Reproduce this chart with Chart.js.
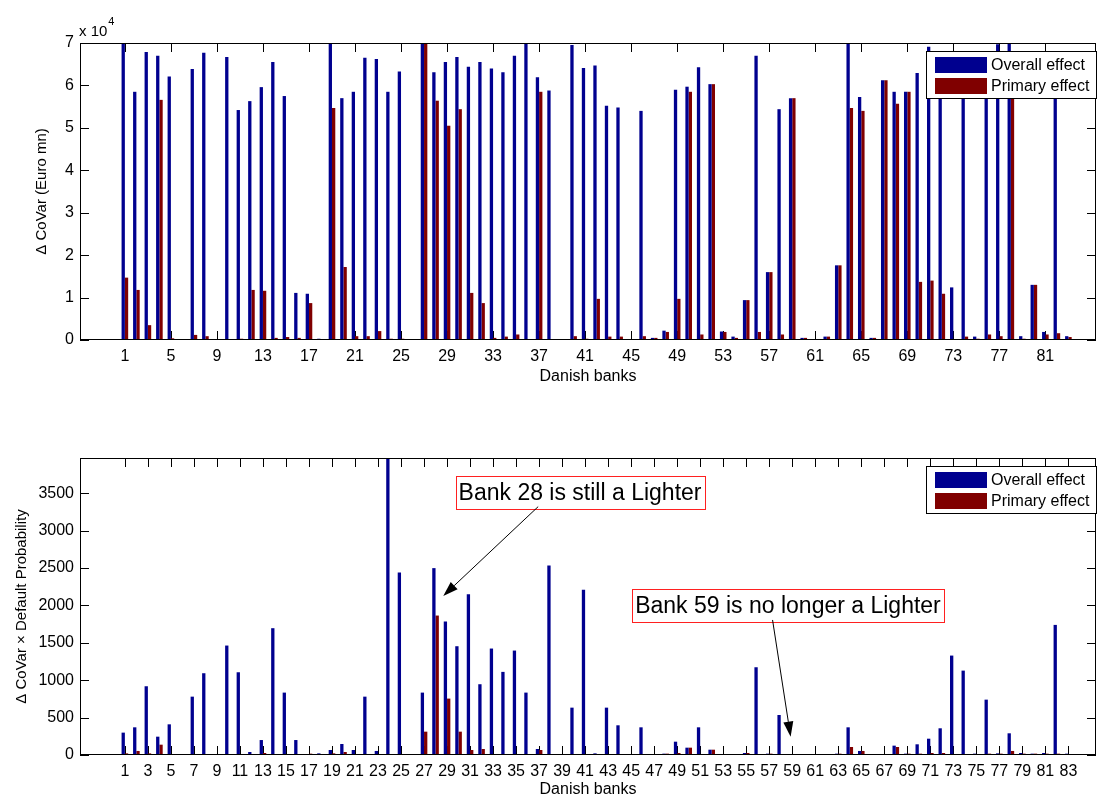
<!DOCTYPE html>
<html lang="en">
<head>
<meta charset="UTF-8">
<title>Danish banks - Delta CoVar</title>
<script src="https://cdn.jsdelivr.net/npm/chart.js"></script>
<style>
    body { margin: 0; background: #fff; overflow: hidden; font-family: "Liberation Sans", Arial, sans-serif; }
    .panel { position: absolute; left: 0; }
    #top-panel { top: 0; }
    #bottom-panel { top: 400px; }
</style>
</head>
<body>
<div class="panel" id="top-panel"><canvas id="covar-chart" width="1097" height="400"></canvas></div>
<div class="panel" id="bottom-panel"><canvas id="prob-chart" width="1097" height="400"></canvas></div>

<script>
// banks on the x axis
const banks = [1, 2, 3, 4, 5, 6, 7, 8, 9, 10, 11, 12, 13, 14, 15, 16, 17, 18, 19, 20,
    21, 22, 23, 24, 25, 26, 27, 28, 29, 30, 31, 32, 33, 34, 35, 36, 37, 38, 39, 40,
    41, 42, 43, 44, 45, 46, 47, 48, 49, 50, 51, 52, 53, 54, 55, 56, 57, 58, 59, 60,
    61, 62, 63, 64, 65, 66, 67, 68, 69, 70, 71, 72, 73, 74, 75, 76, 77, 78, 79, 80,
    81, 82, 83];

// tick labels
const topXTicks = [1, 5, 9, 13, 17, 21, 25, 29, 33, 37, 41, 45, 49, 53, 57, 61, 65, 69, 73, 77, 81];
const bottomXTicks = [1, 3, 5, 7, 9, 11, 13, 15, 17, 19, 21, 23, 25, 27, 29, 31, 33, 35, 37, 39, 41,
    43, 45, 47, 49, 51, 53, 55, 57, 59, 61, 63, 65, 67, 69, 71, 73, 75, 77, 79, 81, 83];
const topYTicks = [0, 1, 2, 3, 4, 5, 6, 7];
const bottomYTicks = [0, 500, 1000, 1500, 2000, 2500, 3000, 3500];

// Delta CoVar, in units of 10^4 Euro mn
const overallCovar = [7.0, 5.85, 6.79, 6.70, 6.21, 0.02, 6.39, 6.77, 0.01, 6.67,
    5.42, 5.63, 5.96, 6.55, 5.75, 1.11, 1.09, 0.03, 7.0, 5.70,
    5.85, 6.65, 6.62, 5.85, 6.33, 0.01, 7.0, 6.31, 6.55, 6.67,
    6.44, 6.55, 6.40, 6.31, 6.70, 6.99, 6.19, 5.88, 0.01, 6.95,
    6.41, 6.47, 5.52, 5.48, 0.02, 5.40, 0.05, 0.22, 5.90, 5.97,
    6.43, 6.03, 0.20, 0.08, 0.94, 6.70, 1.60, 5.44, 5.70, 0.05,
    0.02, 0.08, 1.76, 7.0, 5.73, 0.05, 6.12, 5.85, 5.85, 6.29,
    6.91, 6.30, 1.24, 6.10, 0.08, 6.20, 6.97, 7.0, 0.09, 1.30,
    0.19, 6.00, 0.09];
const primaryCovar = [1.47, 1.18, 0.35, 5.66, 0.04, 0.02, 0.12, 0.09, 0.02, 0.01,
    0.03, 1.18, 1.16, 0.05, 0.07, 0.05, 0.87, 0.02, 5.47, 1.72,
    0.09, 0.09, 0.21, 0.03, 0.03, 0.01, 7.0, 5.64, 5.05, 5.44,
    1.11, 0.87, 0.05, 0.08, 0.13, -0.03, 5.85, 0.02, 0.01, 0.09,
    0.03, 0.97, 0.08, 0.08, 0.02, 0.09, 0.05, 0.19, 0.97, 5.85,
    0.13, 6.03, 0.19, 0.05, 0.94, 0.19, 1.60, 0.13, 5.70, 0.05,
    0.02, 0.08, 1.76, 5.47, 5.40, 0.05, 6.12, 5.57, 5.85, 1.37,
    1.40, 1.09, 0.02, 0.08, 0.03, 0.13, 0.09, 6.40, 0.03, 1.30,
    0.13, 0.16, 0.07];

// Delta CoVar x default probability
const overallProb = [299, 370, 919, 245, 410, 4, 780, 1093, 4, 1463,
    1106, 40, 200, 1695, 834, 200, 13, 22, 67, 147,
    67, 780, 54, 3970, 2440, 4, 834, 2498, 1784, 1454,
    2150, 946, 1423, 1111, 1396, 834, 80, 2533, 4, 633,
    2208, 22, 633, 397, 4, 370, 4, 18, 178, 98,
    370, 71, 4, 4, 27, 1173, 18, 535, 2, 2,
    2, 2, 18, 370, 54, 4, 4, 125, 18, 143,
    218, 357, 1329, 1128, 18, 740, 22, 290, 27, 18,
    27, 1739, 18];
const primaryProb = [22, 54, 22, 138, 4, 4, 9, 4, 4, 4,
    9, 9, 27, 4, 4, 4, 18, 9, 22, 40,
    4, 4, 4, 4, 4, 4, 312, 1864, 754, 312,
    67, 80, 4, 4, 4, 4, 67, 4, 4, 4,
    4, 4, 4, 4, 4, 4, 4, 18, 27, 98,
    4, 71, 4, 4, 27, 13, 18, 4, 2, 2,
    2, 2, 18, 107, 54, 4, 4, 107, 18, 18,
    27, 27, 4, 4, 4, 18, 18, 54, 18, 18,
    18, 18, 4];

// text boxes with arrows, in data coordinates of the lower plot
const probNotes = [
    { text: 'Bank 28 is still a Lighter', at: [29.74, 3511], from: [36.92, 3320], to: [28.67, 2126] },
    { text: 'Bank 59 is no longer a Lighter', at: [45.09, 1999], from: [57.29, 1805], to: [58.86, 245] }
];

const FONT = '"Liberation Sans", Arial, Helvetica, sans-serif';
const BLUE = '#00008f';
const RED = '#800000';
const TICK_LEN = 9;

// inward ticks, axes box, boxed legend and notes (MATLAB look)
function framePlugin(cfg) {
    return {
        id: 'frame',
        beforeDatasetsDraw(chart) {
            const { ctx, chartArea: a, scales: { x, y } } = chart;
            ctx.save();
            ctx.strokeStyle = '#000';
            ctx.lineWidth = 1;
            ctx.beginPath();
            x.ticks.forEach(t => {
                const px = Math.round(x.getPixelForValue(t.value)) + 0.5;
                ctx.moveTo(px, a.bottom); ctx.lineTo(px, a.bottom - TICK_LEN);
                ctx.moveTo(px, a.top); ctx.lineTo(px, a.top + TICK_LEN);
            });
            y.ticks.forEach(t => {
                const py = Math.round(y.getPixelForValue(t.value)) + 0.5;
                ctx.moveTo(a.left, py); ctx.lineTo(a.left + TICK_LEN, py);
                ctx.moveTo(a.right, py); ctx.lineTo(a.right - TICK_LEN, py);
            });
            ctx.stroke();
            ctx.restore();
        },
        afterDatasetsDraw(chart) {
            const { ctx, chartArea: a } = chart;
            ctx.save();
            ctx.strokeStyle = '#000';
            ctx.lineWidth = 1;
            ctx.strokeRect(Math.round(a.left) + 0.5, Math.round(a.top) + 0.5,
                Math.round(a.right - a.left) - 1, Math.round(a.bottom - a.top) - 1);
            ctx.restore();
        },
        afterDraw(chart) {
            const { ctx, chartArea: a, scales: { x, y } } = chart;
            ctx.save();

            // legend
            const bw = 171, bh = 48;
            const bx = Math.round(a.right) - 170, by = Math.round(a.top) + 8;
            ctx.fillStyle = '#fff';
            ctx.fillRect(bx, by, bw, bh);
            ctx.strokeStyle = '#000';
            ctx.lineWidth = 1;
            ctx.strokeRect(bx + 0.5, by + 0.5, bw - 1, bh - 1);
            ctx.font = '16px ' + FONT;
            ctx.textBaseline = 'middle';
            ctx.textAlign = 'left';
            chart.data.datasets.forEach((ds, i) => {
                const ry = by + 6 + i * 21;
                ctx.fillStyle = ds.backgroundColor;
                ctx.fillRect(bx + 9, ry, 52, 16);
                ctx.fillStyle = '#000';
                ctx.fillText(ds.label, bx + 65, ry + 8.5);
            });

            // exponent label
            if (cfg.exponent) {
                ctx.fillStyle = '#000';
                ctx.textBaseline = 'alphabetic';
                ctx.font = '15px ' + FONT;
                ctx.fillText('x 10', a.left - 1, a.top - 7);
                const w = ctx.measureText('x 10').width;
                ctx.font = '11px ' + FONT;
                ctx.fillText(cfg.exponent, a.left + w, a.top - 18);
            }

            // annotations
            (cfg.notes || []).forEach(n => {
                ctx.font = '23px ' + FONT;
                const tw = ctx.measureText(n.text).width;
                const left = x.getPixelForValue(n.at[0]);
                const cy = y.getPixelForValue(n.at[1]);
                ctx.strokeStyle = '#ff2020';
                ctx.strokeRect(Math.round(left) + 0.5, Math.round(cy - 16.5) + 0.5, Math.round(tw + 6), 33);
                ctx.fillStyle = '#000';
                ctx.textBaseline = 'middle';
                ctx.fillText(n.text, left + 3, cy + 1);

                const x0 = x.getPixelForValue(n.from[0]), y0 = y.getPixelForValue(n.from[1]);
                const x1 = x.getPixelForValue(n.to[0]), y1 = y.getPixelForValue(n.to[1]);
                const ang = Math.atan2(y1 - y0, x1 - x0);
                const hl = 15, hw = 5;
                ctx.strokeStyle = '#000';
                ctx.beginPath();
                ctx.moveTo(x0, y0);
                ctx.lineTo(x1 - Math.cos(ang) * hl, y1 - Math.sin(ang) * hl);
                ctx.stroke();
                ctx.beginPath();
                ctx.moveTo(x1, y1);
                ctx.lineTo(x1 - Math.cos(ang) * hl - Math.sin(ang) * hw, y1 - Math.sin(ang) * hl + Math.cos(ang) * hw);
                ctx.lineTo(x1 - Math.cos(ang) * hl + Math.sin(ang) * hw, y1 - Math.sin(ang) * hl - Math.cos(ang) * hw);
                ctx.closePath();
                ctx.fillStyle = '#000';
                ctx.fill();
            });
            ctx.restore();
        }
    };
}

function buildChart(canvasId, opts) {
    const tickFont = { family: FONT, size: 16 };
    const ctx = document.getElementById(canvasId).getContext('2d');
    return new Chart(ctx, {
        type: 'bar',
        data: {
            datasets: [
                {
                    label: 'Overall effect',
                    data: banks.map((b, i) => ({ x: b, y: opts.overall[i] })),
                    backgroundColor: BLUE,
                    borderWidth: 0
                },
                {
                    label: 'Primary effect',
                    data: banks.map((b, i) => ({ x: b, y: opts.primary[i] })),
                    backgroundColor: RED,
                    borderWidth: 0
                }
            ]
        },
        options: {
            responsive: false,
            animation: false,
            events: [],
            datasets: { bar: { categoryPercentage: 0.574, barPercentage: 1.0 } },
            layout: { padding: { top: opts.top, right: 1, left: 0, bottom: 0 } },
            plugins: { legend: { display: false }, tooltip: { enabled: false } },
            scales: {
                x: {
                    type: 'linear',
                    offset: false,
                    min: -2.9,
                    max: 85.4,
                    afterBuildTicks: s => { s.ticks = opts.xTicks.map(v => ({ value: v })); },
                    afterFit: s => { s.height = opts.xHeight; },
                    grid: { display: false, drawTicks: false },
                    border: { display: false },
                    ticks: {
                        autoSkip: false, maxRotation: 0, padding: 7, color: '#000', font: tickFont,
                        callback: v => String(v)
                    },
                    title: {
                        display: true,
                        text: 'Danish banks',
                        color: '#000',
                        font: { family: FONT, size: 16 },
                        padding: { top: 0, bottom: opts.xTitlePad }
                    }
                },
                y: {
                    min: 0,
                    max: opts.yMax,
                    afterBuildTicks: s => { s.ticks = opts.yTicks.map(v => ({ value: v })); },
                    afterFit: s => { s.width = 80; },
                    grid: { display: false, drawTicks: false },
                    border: { display: false },
                    ticks: { padding: 6, color: '#000', font: tickFont, callback: v => String(v) },
                    title: {
                        display: true,
                        text: opts.yTitle,
                        color: '#000',
                        font: { family: FONT, size: 15 },
                        padding: { top: opts.yTitlePad, bottom: 0 }
                    }
                }
            }
        },
        plugins: [framePlugin({ exponent: opts.exponent, notes: opts.notes })]
    });
}

buildChart('covar-chart', {
    overall: overallCovar,
    primary: primaryCovar,
    xTicks: topXTicks,
    yTicks: topYTicks,
    yMax: 7,
    top: 43,
    xHeight: 60,
    xTitlePad: 14,
    yTitle: '\u0394 CoVar (Euro mn)',
    yTitlePad: 33,
    exponent: '4'
});

buildChart('prob-chart', {
    overall: overallProb,
    primary: primaryProb,
    xTicks: bottomXTicks,
    yTicks: bottomYTicks,
    yMax: 3970,
    top: 58,
    xHeight: 45,
    xTitlePad: 1,
    yTitle: '\u0394 CoVar \u00d7 Default Probability',
    yTitlePad: 13,
    notes: probNotes
});
</script>
</body>
</html>
